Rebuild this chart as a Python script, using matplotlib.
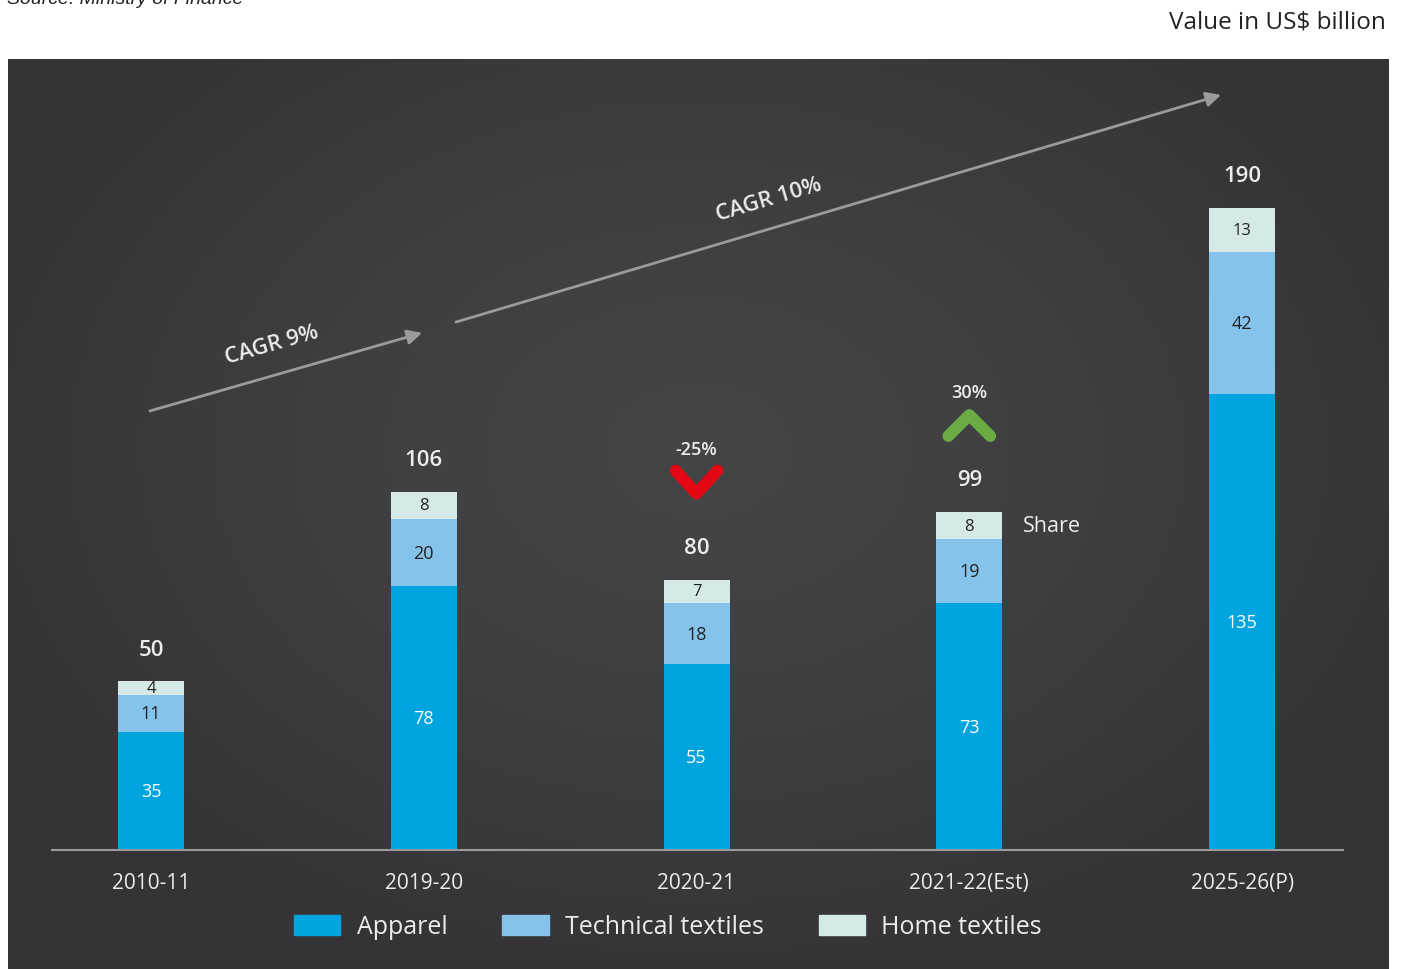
import numpy as np
import matplotlib.pyplot as plt
from matplotlib.patches import Patch

plt.rcParams['font.family'] = ['Open Sans', 'DejaVu Sans']

# values in US$ billion
years = ['2010-11', '2019-20', '2020-21', '2021-22(Est)', '2025-26(P)']
apparel = [35, 78, 55, 73, 135]
technical = [11, 20, 18, 19, 42]
home = [4, 8, 7, 8, 13]
totals = [50, 106, 80, 99, 190]
changes = {2: '-25%', 3: '30%'}

c_app = '#00a5e0'
c_tech = '#85c3ea'
c_home = '#d5eae7'
txt = '#ececec'

W, H = 1401, 970
fig = plt.figure(figsize=(W / 100, H / 100), dpi=100)
fig.patch.set_facecolor('white')

def fx(p):
    return p / W

def fy(p):
    return 1 - p / H

# dark panel with a soft radial glow
bg = fig.add_axes([fx(8), 0, fx(1389 - 8), (H - 60) / H])
gy, gx = np.mgrid[0:1:300j, 0:1:450j]
d = np.sqrt(((gx - 0.5) / 0.55) ** 2 + ((gy - 0.43) / 0.6) ** 2)
d = np.clip(d, 0, 1) ** 1.3
center = np.array([0x45, 0x45, 0x47]) / 255
edge = np.array([0x35, 0x33, 0x35]) / 255
img = center + (edge - center) * d[..., None]
bg.imshow(img, aspect='auto', extent=[0, 1, 0, 1], origin='upper')
bg.axis('off')

# main axes
ax = fig.add_axes([fx(52), fy(851), fx(1343 - 52), (851 - 70) / H])
ax.patch.set_alpha(0)
ppu = 3.38  # pixels per billion
ax.set_ylim(0, (851 - 70) / ppu)
ax.set_xlim(-0.363, 4.370)

x = np.arange(len(years))
w = 0.242
b2 = np.array(apparel)
b3 = b2 + np.array(technical)
ax.bar(x, apparel, w, color=c_app)
ax.bar(x, technical, w, bottom=b2, color=c_tech)
ax.bar(x, home, w, bottom=b3, color=c_home)

for i in x:
    ax.text(i, apparel[i] / 2, str(apparel[i]), ha='center', va='center',
            color='white', fontsize=13)
    ax.text(i, b2[i] + technical[i] / 2, str(technical[i]), ha='center',
            va='center', color='#222222', fontsize=13)
    ax.text(i, b3[i] + home[i] / 2, str(home[i]), ha='center', va='center',
            color='#222222', fontsize=12)
    top = b3[i] + home[i]
    ax.text(i, top + 32 / ppu, str(totals[i]), ha='center', va='center',
            color=txt, fontsize=16, fontweight='semibold')

# year-on-year change markers
for i, lab in changes.items():
    top = b3[i] + home[i]
    lab_y = top + 32 / ppu
    dx = 21 / 272.75
    if lab.startswith('-'):
        ys = [lab_y + 77 / ppu, lab_y + 54 / ppu, lab_y + 77 / ppu]
        col = '#e30613'
        ty = lab_y + 99 / ppu
    else:
        ys = [lab_y + 44 / ppu, lab_y + 65 / ppu, lab_y + 44 / ppu]
        col = '#6aab44'
        ty = lab_y + 88 / ppu
    ax.plot([i - dx, i, i + dx], ys, color=col, lw=8.5,
            solid_capstyle='round', solid_joinstyle='round')
    ax.text(i, ty, lab, ha='center', va='center', color=txt, fontsize=13,
            fontweight='semibold')

ax.text(3 + 54 / 272.75, b3[3] + home[3] / 2, 'Share', ha='left',
        va='center', color=txt, fontsize=15.5)

# CAGR arrows
arrow = dict(arrowstyle='-|>', color='#9b9b9b', lw=2, mutation_scale=22,
             shrinkA=0, shrinkB=0)
ax.annotate('', xy=(0.994, 153.0), xytext=(-0.004, 129.9), arrowprops=arrow)
ax.annotate('', xy=(3.923, 223.4), xytext=(1.118, 156.2), arrowprops=arrow)
ax.text(0.444, 149.7, 'CAGR 9%', rotation=16, ha='center', va='center',
        color=txt, fontsize=16, fontweight='semibold')
ax.text(2.266, 192.6, 'CAGR 10%', rotation=16.5, ha='center', va='center',
        color=txt, fontsize=16, fontweight='semibold')

for s in ['top', 'right', 'left']:
    ax.spines[s].set_visible(False)
ax.spines['bottom'].set_color('#9a9a9a')
ax.spines['bottom'].set_linewidth(1.5)
ax.set_yticks([])
ax.set_xticks(x)
ax.set_xticklabels(years, color=txt, fontsize=15)
ax.tick_params(axis='x', length=0, pad=16)

handles = [Patch(color=c_app, label='Apparel'),
           Patch(color=c_tech, label='Technical textiles'),
           Patch(color=c_home, label='Home textiles')]
leg = fig.legend(handles=handles, loc='center', bbox_to_anchor=(fx(668), fy(928)),
                 ncol=3, frameon=False, fontsize=18, handlelength=1.85,
                 handleheight=0.9, handletextpad=0.65, columnspacing=2.2)
for t in leg.get_texts():
    t.set_color(txt)

fig.text(fx(7), fy(4), 'Source: Ministry of Finance', family='Liberation Sans',
         style='italic', fontsize=14, color='#222222', va='baseline', ha='left')
fig.text(fx(1386), fy(22), 'Value in US$ billion', fontsize=17.5, color='#222222',
         va='center', ha='right')

fig.savefig('out.png', dpi=100, facecolor=fig.get_facecolor())
